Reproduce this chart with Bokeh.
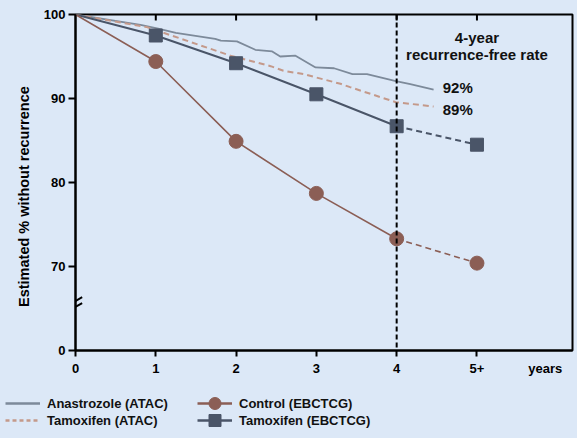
from bokeh.plotting import figure
from bokeh.layouts import column
from bokeh.models import (Range1d, FixedTicker, LinearAxis, Span, Label, Legend,
                          LegendItem, Arrow)
from bokeh.embed import file_html
from bokeh.resources import INLINE

# ---------------- data ----------------
years = [0, 1, 2, 3, 4, 5]
control_ebctcg = [100, 94.4, 84.9, 78.7, 73.3, 70.4]
tamoxifen_ebctcg = [100, 97.5, 94.2, 90.5, 86.7, 84.5]

anastrozole_x = [0, 0.81, 1.03, 1.25, 1.74, 1.81, 2.01, 2.24, 2.45, 2.55, 2.74,
                 2.99, 3.22, 3.45, 3.63, 3.99, 4.17, 4.46]
anastrozole_y = [100, 98.77, 98.33, 97.8, 97.1, 96.9, 96.8, 95.8, 95.6, 95.0, 95.1,
                 93.7, 93.6, 92.9, 92.9, 92.06, 91.7, 91.07]

tam_atac_x = [0, 0.89, 1.93, 2.43, 2.59, 2.84, 3.30, 3.42, 3.99, 4.46]
tam_atac_y = [100, 98.5, 95.1, 93.85, 93.3, 92.9, 91.75, 91.35, 89.56, 89.05]

y_ticks = [60, 70, 80, 90, 100]
y_tick_labels = {60: "0"}
x_ticks = [0, 1, 2, 3, 4, 5]
x_label_ticks = [0, 1, 2, 3, 4, 5, 5.85]
x_tick_labels = {5: "5+", 5.85: "years"}

# ---------------- style ----------------
BG = "#dce8f7"
C_ANA = "#7d8a9a"
C_TAM_ATAC = "#c4998a"
C_CTRL = "#8b5e55"
C_TAM = "#4a5568"
FONT = "Liberation Sans"

p = figure(width=577, height=380, output_backend="svg", toolbar_location=None,
           x_range=Range1d(0, 6.19), y_range=Range1d(60, 100),
           min_border_left=75, min_border_right=5, min_border_top=14,
           min_border_bottom=30, x_axis_type=None, y_axis_type=None)
p.background_fill_color = BG
p.border_fill_color = BG
p.grid.visible = False
p.outline_line_color = "black"
p.outline_line_width = 2

# x axis: line + outward ticks
xaxis = LinearAxis(ticker=FixedTicker(ticks=x_ticks))
xaxis.axis_line_width = 2
xaxis.axis_line_color = "black"
xaxis.major_tick_line_width = 2
xaxis.major_tick_line_color = "black"
xaxis.major_tick_in = 0
xaxis.major_tick_out = 6
xaxis.minor_tick_line_color = None
xaxis.major_label_text_font_size = "1px"
xaxis.major_label_text_alpha = 0
xaxis.major_label_standoff = 0

# x tick labels (incl. "years")
xlabels = LinearAxis(ticker=FixedTicker(ticks=x_label_ticks),
                     major_label_overrides=x_tick_labels)
xlabels.axis_line_color = None
xlabels.major_tick_line_color = None
xlabels.minor_tick_line_color = None
xlabels.major_tick_in = 0
xlabels.major_tick_out = 0
xlabels.major_label_standoff = 4
xlabels.major_label_text_font = FONT
xlabels.major_label_text_font_style = "bold"
xlabels.major_label_text_font_size = "13px"
xlabels.major_label_text_color = "black"

yaxis = LinearAxis(ticker=FixedTicker(ticks=y_ticks), major_label_overrides=y_tick_labels,
                   axis_label="Estimated % without recurrence" + "\u00a0" * 7)
yaxis.axis_line_width = 2
yaxis.axis_line_color = "black"
yaxis.major_tick_line_width = 2
yaxis.major_tick_line_color = "black"
yaxis.major_tick_in = 0
yaxis.major_tick_out = 7
yaxis.minor_tick_line_color = None
yaxis.major_label_standoff = 3
yaxis.major_label_text_font = FONT
yaxis.major_label_text_font_style = "bold"
yaxis.major_label_text_font_size = "13px"
yaxis.major_label_text_color = "black"
yaxis.axis_label_text_font = FONT
yaxis.axis_label_text_font_style = "bold"
yaxis.axis_label_text_font_size = "14.5px"
yaxis.axis_label_text_color = "black"
yaxis.axis_label_standoff = 9

p.add_layout(xaxis, "below")
p.add_layout(xlabels, "below")
p.add_layout(yaxis, "left")

# vertical dashed line at 4 years
p.add_layout(Span(location=4, dimension="height", line_color="black",
                  line_width=2, line_dash="5 3"))

# top inner ticks
p.segment(x0=x_ticks[1:], y0=[100] * 5, x1=x_ticks[1:], y1=[100 - 6 / 8.4] * 5,
          line_color="black", line_width=2)

# ATAC curves
p.line(anastrozole_x, anastrozole_y, line_color=C_ANA, line_width=1.8)
p.line(tam_atac_x, tam_atac_y, line_color=C_TAM_ATAC, line_width=2, line_dash="6 4")

# EBCTCG
p.line(years[:5], tamoxifen_ebctcg[:5], line_color=C_TAM, line_width=2)
p.line(years[4:], tamoxifen_ebctcg[4:], line_color=C_TAM, line_width=2, line_dash="6 4")
p.line(years[:5], control_ebctcg[:5], line_color=C_CTRL, line_width=1.6)
p.line(years[4:], control_ebctcg[4:], line_color=C_CTRL, line_width=1.6, line_dash="6 4")
p.scatter(years[1:], tamoxifen_ebctcg[1:], marker="square", size=13,
          fill_color=C_TAM, line_color=C_TAM)
p.scatter(years[1:], control_ebctcg[1:], marker="circle", size=14,
          fill_color=C_CTRL, line_color=C_CTRL)

# annotation text
def lab(x, y, t, align="center", size="15px"):
    p.add_layout(Label(x=x, y=y, text=t, text_align=align, text_baseline="middle",
                       text_font=FONT, text_font_style="bold", text_font_size=size,
                       text_color="#111111"))

lab(5, 97.3, "4-year")
lab(5, 95.24, "recurrence-free rate")
lab(4.574, 91.27, "92%", align="left")
lab(4.574, 88.73, "89%", align="left")

# axis break marks
for (ya, yb) in [(65.36, 66.35), (64.68, 65.63)]:
    p.add_layout(Arrow(x_start=-0.096, y_start=ya, x_end=0.083, y_end=yb, end=None,
                       line_color="black", line_width=2))

# ---------------- legend strip (separate figure below) ----------------
q = figure(width=577, height=58, output_backend="svg", toolbar_location=None,
           x_range=Range1d(0, 1), y_range=Range1d(0, 1),
           min_border_left=0, min_border_right=0, min_border_top=0, min_border_bottom=0,
           x_axis_type=None, y_axis_type=None)
q.background_fill_color = BG
q.border_fill_color = BG
q.grid.visible = False
q.outline_line_color = None
col1_x, col2_x = 5, 197
try:
    p.frame_align = False
    q.frame_align = False
except Exception:
    col1_x, col2_x = -70, 122

# legend key renderers (same series; they fall outside this strip's ranges)
l_ana = q.line(anastrozole_x, anastrozole_y, line_color=C_ANA, line_width=2.5)
l_tam_atac = q.line(tam_atac_x, tam_atac_y, line_color=C_TAM_ATAC, line_width=2.5,
                    line_dash="4 3")
l_ctrl_line = q.line(years, control_ebctcg, line_color=C_CTRL, line_width=2.5)
l_ctrl_pts = q.scatter(years, control_ebctcg, marker="circle", size=12,
                       fill_color=C_CTRL, line_color=C_CTRL)
l_tam_line = q.line(years, tamoxifen_ebctcg, line_color=C_TAM, line_width=2.5)
l_tam_pts = q.scatter(years, tamoxifen_ebctcg, marker="square", size=11,
                      fill_color=C_TAM, line_color=C_TAM)

def add_key(label, renderers, loc):
    lg = Legend(items=[LegendItem(label=label, renderers=renderers)],
                location=loc, orientation="vertical",
                background_fill_alpha=0, border_line_alpha=0, padding=0, margin=0,
                spacing=0, glyph_width=35, glyph_height=30, label_height=14,
                label_standoff=7, label_text_font=FONT, label_text_font_style="bold",
                label_text_font_size="13px", label_text_color="#111111")
    q.add_layout(lg, "center")

ROW1_Y, ROW2_Y = 20, 3
add_key("Anastrozole (ATAC)", [l_ana], (col1_x, ROW1_Y))
add_key("Tamoxifen (ATAC)", [l_tam_atac], (col1_x, ROW2_Y))
add_key("Control (EBCTCG)", [l_ctrl_line, l_ctrl_pts], (col2_x, ROW1_Y))
add_key("Tamoxifen (EBCTCG)", [l_tam_line, l_tam_pts], (col2_x, ROW2_Y))

layout = column(p, q, spacing=0)
html = file_html(layout, INLINE)
html = html.replace("<head>", "<head><style>body{background:%s;}</style>" % BG, 1)
open("out.html", "w").write(html)
